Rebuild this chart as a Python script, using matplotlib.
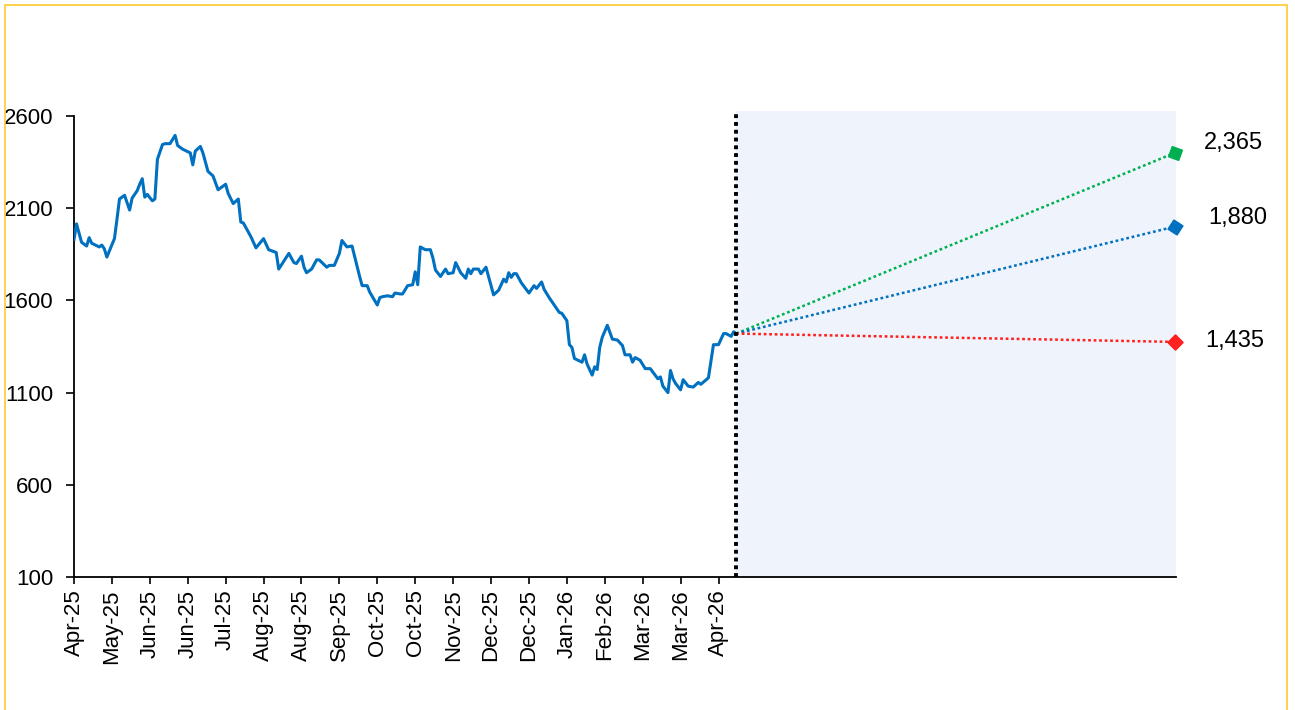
import matplotlib
matplotlib.use("Agg")
import matplotlib.pyplot as plt
from matplotlib.patches import Rectangle

plt.rcParams['font.family'] = ['Liberation Sans', 'DejaVu Sans']

# historico (dia util, valor)
dias = [0, 1, 3, 5, 6, 7, 10, 11, 12, 13, 16, 17, 18, 20, 22, 23, 25, 26, 27, 28,
        29, 31, 32, 33, 35, 36, 38, 40, 41, 43, 46, 47, 48, 50, 51, 53, 55, 57, 60, 61,
        63, 65, 66, 67, 70, 72, 75, 77, 80, 81, 85, 87, 88, 90, 91, 92, 94, 96, 97, 100,
        101, 103, 105, 106, 108, 110, 111, 113, 114, 116, 117, 120, 121, 122, 124, 126, 127, 129,
        130, 132, 134, 135, 136, 137, 139, 141, 142, 143, 145, 147, 148, 150, 151, 153, 155, 156,
        157, 158, 160, 161, 163, 166, 168, 170, 171, 172, 173, 174, 175, 177, 180, 182, 183, 185,
        186, 188, 192, 193, 195, 196, 197, 198, 201, 202, 203, 204, 205, 206, 207, 208, 209, 211,
        213, 215, 217, 218, 220, 221, 222, 224, 226, 228, 231, 232, 233, 235, 236, 237, 238, 240,
        241, 243, 245, 247, 248, 251, 252, 253, 255, 257, 258, 260, 261, 262]
valores = [1930, 2015, 1915, 1895, 1940, 1910, 1890, 1900, 1880, 1835, 1935, 2040, 2150, 2170, 2090, 2155, 2195, 2230, 2260, 2160,
           2175, 2140, 2150, 2365, 2445, 2450, 2450, 2495, 2440, 2420, 2400, 2335, 2410, 2435, 2400, 2300, 2275, 2200, 2230, 2180,
           2125, 2150, 2025, 2020, 1945, 1885, 1935, 1875, 1860, 1770, 1855, 1805, 1800, 1840, 1780, 1750, 1770, 1820, 1820, 1780,
           1790, 1790, 1855, 1925, 1890, 1895, 1840, 1730, 1680, 1680, 1645, 1575, 1615, 1620, 1625, 1620, 1640, 1635,
           1635, 1680, 1685, 1755, 1685, 1890, 1875, 1875, 1830, 1765, 1730, 1770, 1745, 1750, 1805, 1750, 1720, 1770,
           1745, 1770, 1770, 1745, 1780, 1630, 1655, 1715, 1700, 1750, 1725, 1745, 1745, 1695, 1640, 1680, 1665, 1700,
           1660, 1615, 1535, 1530, 1490, 1360, 1345, 1285, 1265, 1305, 1255, 1225, 1195, 1240, 1225, 1345, 1400, 1465,
           1390, 1385, 1355, 1305, 1305, 1265, 1290, 1275, 1230, 1230, 1175, 1185, 1135, 1100, 1220, 1175, 1150, 1115,
           1170, 1135, 1130, 1155, 1145, 1180, 1270, 1360, 1360, 1420, 1420, 1405, 1430, 1420]

meses = ["Apr-25", "May-25", "Jun-25", "Jun-25", "Jul-25", "Aug-25", "Aug-25", "Sep-25", "Oct-25",
         "Oct-25", "Nov-25", "Dec-25", "Dec-25", "Jan-26", "Feb-26", "Mar-26", "Mar-26", "Apr-26"]

# cenarios (valor final no grafico, rotulo)
cen_fim = [2400, 2000, 1375]
cen_rotulo = ["2,365", "1,880", "1,435"]
cen_cor = ["#00B050", "#0070C0", "#FF2020"]
cen_marker = [(4, 0, 25), (4, 0, 12), (4, 0, 0)]
cen_offset = [(21, 7), (24, 6), (22, 1)]

dia_fim = 435.5
dia_hoje = dias[-1]

fig = plt.figure(figsize=(12.95, 7.10), dpi=100)
ax = fig.add_axes([74 / 1295, 133 / 710, (1176 - 74) / 1295, (577 - 111.4) / 710])

ax.axvspan(dia_hoje, 436, color="#EFF4FC", zorder=0, lw=0)
ax.plot(dias, valores, color="#0070C0", lw=2.2, zorder=3, solid_joinstyle="round")

for fim, cor, mk in zip(cen_fim, cen_cor, cen_marker):
    ax.plot([dia_hoje, dia_fim], [valores[-1], fim], color=cor, lw=1.8,
            linestyle=(0, (1.1, 1.1)), zorder=2)
    ax.plot([dia_fim], [fim], marker=mk, color=cor, markersize=11, zorder=4, clip_on=False)

for fim, rot, off in zip(cen_fim, cen_rotulo, cen_offset):
    ax.annotate(rot, (dia_fim, fim), xytext=off, textcoords="offset points",
                fontsize=17, va="center", ha="left", annotation_clip=False)

ax.axvline(dia_hoje, color="black", lw=2.8, linestyle=(0, (1, 1)), zorder=5)

ax.set_xlim(0, 436)
ax.set_ylim(100, 2625)
ax.set_yticks([100, 600, 1100, 1600, 2100, 2600])
ax.set_xticks(range(0, 15 * len(meses), 15))
ax.set_xticklabels(meses, rotation=90, ha="center", va="top")
ax.tick_params(axis="y", direction="out", length=6, width=1.2, labelsize=16, pad=9)
ax.tick_params(axis="x", direction="out", length=5, width=1.2, labelsize=16, pad=4)

for s in ["top", "right"]:
    ax.spines[s].set_visible(False)
ax.spines["left"].set_bounds(100, 2600)
ax.spines["left"].set_linewidth(1.3)
ax.spines["bottom"].set_linewidth(1.3)

fig.add_artist(Rectangle((5 / 1295, -0.02), (1287 - 5) / 1295, (710 - 5) / 710 + 0.02,
                         transform=fig.transFigure, fill=False, edgecolor="#FFC82E", lw=1.2))

fig.savefig("out.png", dpi=100)
